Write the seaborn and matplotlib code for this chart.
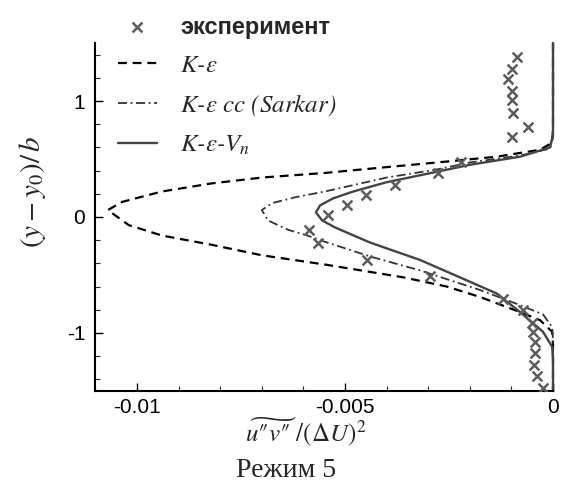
import matplotlib
matplotlib.use('Agg')
import matplotlib.pyplot as plt
import seaborn as sns
from matplotlib.ticker import MultipleLocator, FixedLocator

# Experimental points (x = u''v''/(dU)^2, y = (y-y0)/b)
exp_x = [-0.00087, -0.00099, -0.00108, -0.00099, -0.00099, -0.00096, -0.00060, -0.00099,
         -0.00221, -0.00276, -0.0038, -0.0045, -0.00495, -0.0054, -0.00587, -0.00565,
         -0.00447, -0.00296, -0.0012, -0.00072, -0.0005, -0.00048, -0.00043, -0.00043,
         -0.00046, -0.00038, -0.00024]
exp_y = [1.38, 1.28, 1.19, 1.09, 1.01, 0.90, 0.78, 0.69,
         0.47, 0.38, 0.28, 0.19, 0.10, 0.02, -0.11, -0.22,
         -0.37, -0.51, -0.71, -0.80, -0.91, -0.99, -1.08, -1.17,
         -1.28, -1.37, -1.47]

# K-eps
ke_x = [0, 0, -0.00002, -0.00031, -0.00135, -0.00279, -0.0040, -0.00548, -0.0070,
        -0.0082, -0.0094, -0.01036, -0.0107, -0.0102, -0.0094, -0.0082, -0.0070,
        -0.00548, -0.0036, -0.00255, -0.00175, -0.00079, -0.00031, -0.00002, 0, 0]
ke_y = [1.5, 0.75, 0.64, 0.58, 0.52, 0.47, 0.43, 0.38, 0.34,
        0.29, 0.22, 0.13, 0.06, -0.07, -0.16, -0.24, -0.33,
        -0.41, -0.52, -0.60, -0.69, -0.82, -0.89, -0.99, -1.10, -1.5]

# K-eps cc (Sarkar)
sk_x = [0, 0, -0.00007, -0.00079, -0.0020, -0.00279, -0.0040, -0.00548, -0.0062,
        -0.00675, -0.0070, -0.00685, -0.00637, -0.0059, -0.0056, -0.0044, -0.0032,
        -0.00175, -0.00079, -0.00024, -0.00002, 0, 0]
sk_y = [1.5, 0.71, 0.59, 0.53, 0.47, 0.41, 0.34, 0.22, 0.17,
        0.12, 0.06, -0.03, -0.11, -0.16, -0.20, -0.34, -0.46,
        -0.63, -0.76, -0.84, -0.95, -1.06, -1.5]

# K-eps-Vn
vn_x = [0, 0, -0.00007, -0.00079, -0.0020, -0.00279, -0.0040, -0.0048, -0.00529,
        -0.0056, -0.0057, -0.00555, -0.00524, -0.0044, -0.0032, -0.00224, -0.00135,
        -0.00079, -0.00024, -0.00002, 0, 0]
vn_y = [1.5, 0.71, 0.60, 0.52, 0.45, 0.39, 0.30, 0.22, 0.16,
        0.10, 0.04, -0.03, -0.09, -0.22, -0.37, -0.52, -0.66,
        -0.82, -0.99, -1.12, -1.23, -1.5]

sns.set_style('ticks')
plt.rcParams['font.family'] = ['Liberation Sans', 'DejaVu Sans']
plt.rcParams['mathtext.fontset'] = 'stix'
plt.rcParams['axes.unicode_minus'] = False

fig = plt.figure(figsize=(5.68, 4.86), dpi=100)
ax = fig.add_axes([0.1673, 0.1955, 0.8063, 0.7160])

sns.scatterplot(x=exp_x, y=exp_y, ax=ax, marker='x', s=50, color='#5c5c5c',
                linewidth=1.8, label='эксперимент', zorder=5)
sns.lineplot(x=ke_x, y=ke_y, ax=ax, sort=False, estimator=None, color='black',
             linewidth=1.6, linestyle=(0, (4, 2.6)), label=r'$K$-$\varepsilon$',
             clip_on=False)
sns.lineplot(x=sk_x, y=sk_y, ax=ax, sort=False, estimator=None, color='#333333',
             linewidth=1.3, linestyle=(0, (5, 2, 1, 2)),
             label=r'$K$-$\varepsilon$ cc (Sarkar)', clip_on=False)
sns.lineplot(x=vn_x, y=vn_y, ax=ax, sort=False, estimator=None, color='#444444',
             linewidth=1.7, label=r'$K$-$\varepsilon$-$V_n$', clip_on=False)

ax.set_xlim(-0.01101, 0)
ax.set_ylim(-1.5, 1.5)
ax.xaxis.set_major_locator(FixedLocator([-0.01, -0.005, 0]))
ax.set_xticklabels(['-0.01', '-0.005', '0'])
ax.xaxis.set_minor_locator(MultipleLocator(0.001))
ax.yaxis.set_major_locator(FixedLocator([-1, 0, 1]))
ax.set_yticklabels(['-1', '0', '1'])
ax.yaxis.set_minor_locator(MultipleLocator(0.2))

sns.despine(ax=ax, top=True, right=True)
for s in ['left', 'bottom']:
    ax.spines[s].set_linewidth(1.5)
    ax.spines[s].set_color('black')
ax.tick_params(which='major', direction='in', length=6, width=1, labelsize=15,
               colors='black')
ax.tick_params(axis='x', which='major', pad=5)
ax.tick_params(axis='y', which='major', pad=7)
ax.tick_params(which='minor', direction='in', length=3.5, width=0.8)

ax.set_xlabel(r"$\widetilde{u″v″}\ /\left(\Delta U\right)^2$", fontsize=18)
ax.xaxis.set_label_coords(0.461, -0.07)
ax.set_ylabel(r'$\left(y-y_0\right)/\,b$', fontsize=21)
ax.yaxis.set_label_coords(-0.103, 0.572)

handles, labels = ax.get_legend_handles_labels()
order = [labels.index('эксперимент')] + [i for i, l in enumerate(labels) if l != 'эксперимент']
leg = ax.legend([handles[i] for i in order], [labels[i] for i in order],
                loc='upper left', bbox_to_anchor=(118 / 568, 1 - 16 / 486),
                bbox_transform=fig.transFigure, frameon=False, borderpad=0,
                borderaxespad=0, handlelength=1.55, handletextpad=0.95,
                labelspacing=0.62, prop={'family': 'STIXGeneral', 'style': 'italic',
                                         'size': 18})
leg.get_texts()[0].set_fontproperties({'family': 'Liberation Sans', 'weight': 'bold',
                                       'size': 17})

fig.text(286 / 568, 1 - 470 / 486, 'Режим 5', ha='center', va='center',
         family='Liberation Serif', fontsize=20)

fig.savefig('out.png', dpi=100)
